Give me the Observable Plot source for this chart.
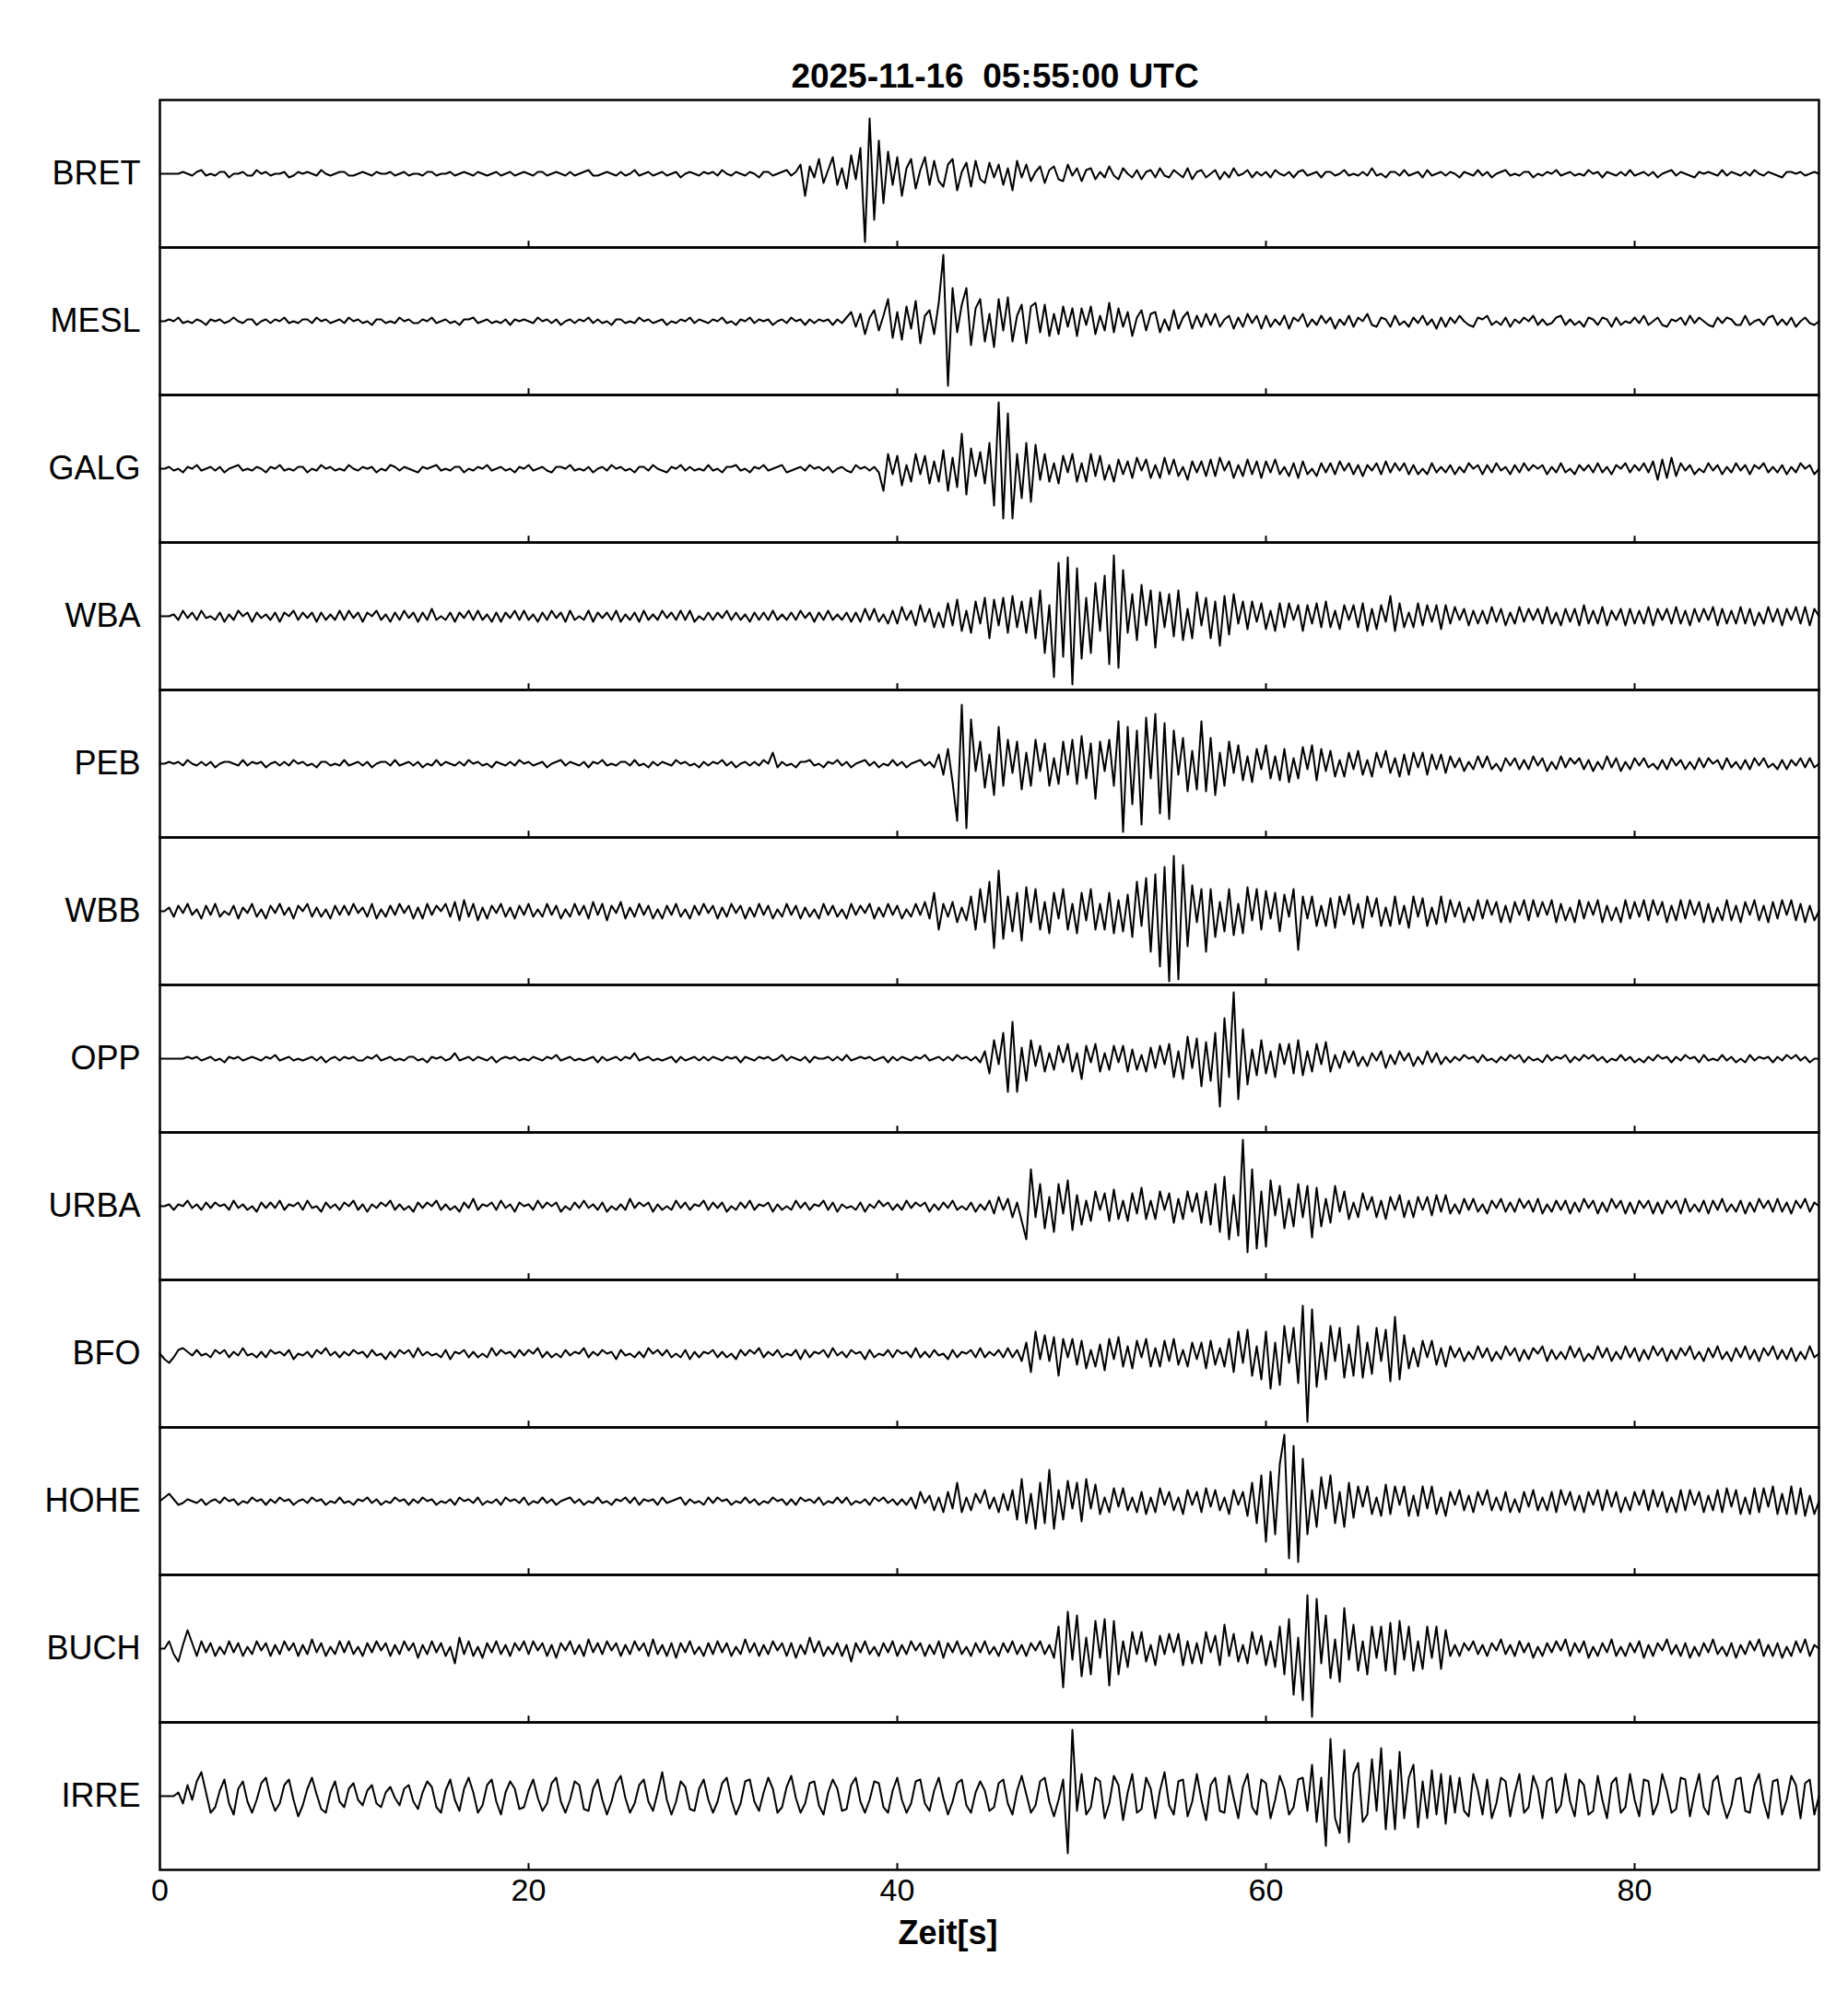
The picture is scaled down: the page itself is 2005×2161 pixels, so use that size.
<!DOCTYPE html>
<html>
<head>
<meta charset="utf-8">
<script src="https://cdn.jsdelivr.net/npm/d3@7"></script>
<script src="https://cdn.jsdelivr.net/npm/@observablehq/plot@0.6"></script>
<style>
  html, body { margin: 0; padding: 0; background: #fff; }
  svg { display: block; }
</style>
</head>
<body>
<script>
// ---- chart values ----
const stations = ["BRET","MESL","GALG","WBA","PEB","WBB","OPP","URBA","BFO","HOHE","BUCH","IRRE"];
const xTicks = [0, 20, 40, 60, 80];
const innerTicks = [20, 40, 60, 80];
const titleText = "2025-11-16\u00a0\u00a005:55:00 UTC";
const xLabel = "Zeit[s]";

// each trace: 9 segments of 10 s, samples every 0.25 s (amplitude units)
const BRET = [
[0,0,0,0, 0,1,0,-1, 1,2,-1,0, -1,1,1,-2, 0,0,1,-1, -1,2,0,1, -1,0,0,1, -2,-1,1,0, 1,0,-1,2, 0,-1,0,1],
[1,-1,-1,0, 1,0,-1,1, 0,0,1,-1, 0,1,-1,0, 0,-1,1,1, -1,0,0,1, -1,0,1,0, -1,1,0,-1, 0,1,-1,0, 1,-1,0,1],
[0,-1,1,1, -1,0,1,0, -1,1,-1,0, 1,2,-1,-1, 0,1,0,-1, 1,-1,0,2, -1,0,1,-1, 0,1,-1,0, 1,-2,0,1, 0,-1,1,0],
[1,-1,2,0, -1,1,0,-1, 1,0,-2,1, 1,-1,0,1, 2,-1,1,5, -12,4,-2,8, -5,2,9,-6, 3,-8,10,-3, 14,-37,30,-25, 18,-16,12,-6],
[9,-12,3,8, -8,2,9,-6, 7,-4,-7,5, 8,-9,1,6, -7,7,-3,-5, 6,-2,5,-6, 3,-9,7,-2, 5,-4,1,4, -5,2,4,-3, -4,5,-1,3],
[-4,2,3,-3, 1,-2,4,-1, -3,3,0,-2, 2,-3,1,2, -2,3,-1,-2, 2,0,-2,3, -3,1,2,-2, 0,2,-3,1, -2,3,-1,0, 2,-2,1,-1],
[1,-2,2,0, -1,1,-2,1, 2,-1,0,1, -2,1,1,-1, 0,2,-1,0, -1,1,-1,3, -1,0,-2,1, 1,-1,2,-1, 0,1,-2,2, -1,0,1,-1],
[1,0,-2,1, 0,-1,2,-1, 1,-2,0,1, 2,-1,0,-1, 1,1,-2,0, -1,1,0,2, -1,0,1,-1, 0,-1,2,0, 1,-2,1,0, -1,1,-1,2],
[-1,0,1,-1, 1,-2,0,1, 2,-1,1,0, -1,-2,1,0, 1,0,-1,2, -1,1,0,-1, 1,-1,2,0, -1,1,0,-1, -2,1,1,0, 1,-1,0,1]
];
const MESL = [
[0,0,1,0, 2,-1,0,-1, 1,0,-2,1, 0,1,-1,0, 2,0,-1,1, 1,-2,0,1, -1,1,0,2, -1,0,-1,1, 1,-1,2,0, 1,-1,0,1],
[-1,2,0,1, -1,0,-2,1, 1,-1,0,-1, 2,0,1,-1, -1,1,0,2, -1,0,1,-1, 0,-2,1,1, 2,-1,0,1, -1,0,-1,1, -2,1,0,1],
[0,-1,2,0, 1,-1,1,-2, 0,1,-1,1, 0,2,-1,1, -1,0,-2,1, 1,-1,0,-1, 2,0,1,-1, 0,1,-2,0, -1,1,0,2, -1,1,0,-1],
[1,0,2,-1, 0,-2,1,0, 2,-1,1,0, 1,-2,0,1, -1,2,0,1, -2,1,-1,1, 0,1,-2,1, -1,2,5,-3, 4,-7,2,6, -5,3,12,-9],
[5,-10,8,-4, 11,-12,3,6, -7,10,36,-35, 18,-6,9,18, -13,7,12,-11, 4,-14,12,-5, 13,-11,3,9, -12,8,10,-6, 9,-8,4,-7, 8,-3,7,-8],
[7,-2,8,-7, 3,-5,10,-6, 7,-3,5,-8, 2,6,-5,4, 5,-6,1,-5, 6,-4,2,5, -4,3,-3,4, -2,4,-3,1, 3,-4,2,-3, 4,-1,3,-4],
[3,-3,1,-2, 3,-4,2,0, 4,-3,1,-2, 3,-1,2,-4, 1,-2,3,-3, 2,0,4,-2, -3,2,1,-3, 3,-2,0,-3, 2,-1,3,-2, 1,-4,2,-3],
[2,-1,3,0, -2,-3,2,1, 3,-2,0,-2, 2,-3,1,-1, 2,0,3,-2, 1,-2,-1,2, 3,-2,1,-2, 0,-3,2,1, -2,2,1,-3, 2,-2,0,-1],
[2,-1,3,-2, 0,2,-2,-3, 1,0,2,-2, 3,-1,2,0, -2,-3,2,-1, 2,1,-2,-2, 3,-2,0,1, -2,2,3,-2, 1,-2,2,-3, 0,2,-1,-2]
];
const GALG = [
[0,0,1,-1, 0,-2,1,0, 2,-1,0,1, -1,1,-2,0, 1,2,-1,0, -1,1,0,-2, 1,0,2,-1, 0,-1,1,1, -2,0,-1,2, 0,1,-1,0],
[-1,2,0,-1, 1,0,1,-2, 0,-1,2,1, -1,1,0,-1, -2,1,0,1, 2,-1,0,-1, 1,1,-2,0, -1,1,0,2, -1,0,1,-1, 0,-2,1,0],
[2,-1,0,1, -1,-2,1,1, 0,2,-1,0, -1,1,-2,0, 1,-1,2,0, 1,-1,0,-2, 1,1,-1,2, 0,-1,-2,1, 0,2,-1,1, -1,0,-1,2],
[-1,0,-2,1, 1,2,-1,0, -2,1,0,2, -1,0,1,2, -2,-1,0,1, -1,2,0,1, -1,1,-2,0, 1,-1,-2,2, 0,1,-1,1, -2,-12,8,-3],
[7,-9,2,-7, 8,-3,7,-8, 4,-7,10,-12, 6,-10,19,-14, 11,-4,9,-8, 14,-20,36,-27, 30,-27,8,-16, 14,-18,13,-6, 8,-7,3,-8, 7,-2,8,-7],
[3,-7,8,-4, 7,-6,2,-7, 5,-3,4,-5, 6,-1,5,-5, 2,-5,6,-3, 5,-4,1,-6, 4,-2,4,-4, 5,-4,6,-1, 4,-5,2,-4, 5,-3,4,-5],
[4,-2,5,-3, 1,-4,3,-5, 4,-3,0,-4, 3,-2,3,-3, 4,-1,3,-3, 2,-4,2,-1, 3,-3,4,-2, 3,-1,3,-3, 2,-3,0,-3, 3,-2,1,-2],
[2,-3,1,-2, 3,0,2,-3, 2,-2,3,-1, 1,-3,2,-2, 3,-1,2,0, 2,-3,1,-2, 3,-2,0,-3, 2,-1,2,-2, 3,-2,1,-3, 2,0,3,-2],
[2,-1,3,-2, 4,-6,5,-5, 6,-4,3,-1, 2,-3,0,-2, 3,-1,2,-3, 1,-2,3,-1, 2,-3,2,0, 3,-2,1,-2, 2,-3,1,-2, 3,0,2,-3]
];
const WBA = [
[0,0,0,1, -2,3,-1,2, -2,3,-1,0, -2,2,-3,1, -2,3,0,2, -3,2,-1,1, -2,2,-3,2, 0,3,-2,2, -1,2,-3,2, -2,1,-2,3],
[-2,3,-1,2, -3,2,0,3, -2,1,-3,2, -2,3,-1,2, -3,2,-2,4, -2,0,-2,2, -3,2,-1,3, -2,3,-2,1, -3,2,-3,2, -1,3,-2,3],
[-2,1,-3,2, -2,3,-1,2, -3,3,-2,0, -2,3,-3,2, -1,2,-2,3, -3,1,-2,2, -3,3,-2,1, -2,3,-1,2, -2,3,-2,3, -3,0,-2,2],
[-2,2,-1,3, -2,2,-2,1, -3,2,-2,2, -2,3,-2,1, -2,2,-2,3, -1,2,-3,2, -2,3,-2,1, -2,2,-3,2, -3,4,-2,4, -3,1,-4,3],
[-4,5,-2,3, -5,6,-3,4, -6,2,-6,7, -5,9,-8,3, -9,8,-4,10, -12,9,-5,10, -9,11,-6,8, -9,10,-12,14, -20,6,-33,29, -22,32,-37,26],
[-23,10,-20,18, -8,22,-26,33, -28,25,-9,12, -13,17,-5,14, -17,13,-6,12, -11,14,-13,4, -12,13,-5,10, -12,8,-16,11, -10,12,-4,8, -7,8,-3,7],
[-7,3,-8,7, -6,7,-2,6, -8,6,-4,7, -6,8,-6,3, -7,6,-2,6, -6,7,-8,4, -7,6,-3,11, -8,7,-6,2, -6,7,-5,6, -3,6,-7,6],
[-4,5,-2,4, -5,3,-4,3, -4,5,-3,4, -5,2,-4,5, -3,4,-2,4, -4,5,-4,2, -5,4,-3,4, -5,6,-4,3, -4,5,-5,3, -2,4,-5,4],
[-4,3,-4,5, -5,4,-2,4, -4,5,-4,3, -5,4,-3,4, -2,5,-5,4, -4,3,-4,5, -4,4,-5,2, -4,5,-3,4, -5,4,-2,5, -4,5,-5,4]
];
const PEB = [
[0,0,1,0, 1,-1,2,0, -1,1,-1,1, -2,0,1,1, 0,-1,2,-1, 1,0,1,-2, 0,1,-1,1, -1,2,0,1, -1,0,-2,1, 1,-1,0,-1],
[2,-1,0,1, -1,1,-2,0, 1,1,-1,2, -1,0,1,-1, 1,-2,0,-1, 2,-1,1,0, -1,1,-1,2, 0,1,-1,0, -2,1,0,-1, 1,-1,2,0],
[1,-1,0,1, -2,0,1,2, -1,1,0,-1, 1,-2,1,0, 2,-1,0,-1, 1,1,-1,2, -1,0,-2,1, -1,1,0,-1, 2,0,1,-1, 0,-2,1,-1],
[1,0,2,-1, 1,-2,0,1, -1,1,-1,2, 0,6,-2,1, -1,0,-2,1, 1,2,-1,0, -2,1,0,2, -1,1,-2,0, 1,2,-1,1, -2,0,-1,2],
[-1,1,-2,0, 1,2,-1,1, -2,5,-6,8, -10,-31,32,-35, 24,-4,12,-13, 5,-17,20,-12, 13,-5,12,-14, 6,-12,13,-4, 11,-12,3,-11, 12,-6,13,-11],
[15,-8,11,-19, 12,-4,13,-12, 23,-37,20,-22, 18,-33,25,-8, 27,-27,22,-30, 18,-6,14,-15, 7,-14,23,-15, 14,-17,6,-12, 12,-5,10,-9, 4,-10,8,-3],
[10,-8,4,-9, 8,-10,3,-8, 9,-3,10,-9, 8,-4,7,-7, 2,-7,6,-3, 7,-6,2,-7, 6,-2,7,-5, 3,-7,5,-6, 6,-2,6,-6, 5,-3,5,-5],
[4,-2,3,-4, 1,-3,4,-2, 4,-3,0,-4, 3,-1,3,-3, 2,-3,4,-1, 3,-4,1,-3, 4,-2,3,0, 3,-3,2,-4, 1,-3,4,-2, 3,-4,1,-3],
[3,-1,3,-2, 0,-3,2,-3, 3,-1,2,-3, 1,-3,3,-2, 3,0,2,-3, 3,-2,1,-3, 2,-3,3,-1, 3,-2,0,-3, 2,-3,2,-1, 3,-2,3,-2]
];
const WBB = [
[0,0,2,-3, 3,-1,4,-2, 1,-4,3,-2, 4,-3,0,-2, 3,-4,2,-1, 4,-3,1,-4, 3,-1,4,-2, 2,-4,3,0, 4,-3,2,-3, 1,-4,3,-2],
[3,-2,4,-1, 2,-3,4,-4, 1,-3,3,-2, 4,-1,3,-4, 2,-4,4,-2, 3,0,4,-3, 5,-5,6,-3, 4,-5,2,-4, 3,-1,4,-3, 2,-4,3,-2],
[4,-3,1,-3, 4,-2,3,-4, 1,-3,4,-2, 3,-4,5,-2, 4,-5,3,-1, 5,-4,2,-3, 4,-2,3,-4, 1,-4,3,-2, 4,-3,1,-4, 3,-2,4,-1],
[3,-4,2,-3, 4,-1,3,-4, 2,-3,4,-2, 3,-4,1,-3, 4,-2,3,-4, 2,-3,1,-4, 4,-2,3,-3, 1,-4,4,-2, 3,-1,4,-4, 2,-3,4,-2],
[3,-4,1,-3, 4,-2,5,-4, 10,-10,4,-3, 5,-6,2,-5, 8,-10,12,-6, 16,-20,22,-15, 8,-11,10,-16, 13,-6,12,-10, 5,-12,10,-4, 12,-10,4,-12],
[10,-5,12,-10, 4,-10,10,-12, 6,-11,9,-14, 16,-8,18,-22, 20,-30,24,-38, 30,-37,25,-19, 14,-6,12,-22, 12,-14,5,-11, 12,-13,4,-12, 13,-5,12,-10],
[11,-4,10,-11, 9,-3,12,-21, 8,-4,8,-8, 3,-8,7,-9, 8,-2,9,-7, 4,-9,8,-3, 7,-8,2,-8, 8,-7,3,-9, 8,-3,7,-8, 2,-7,8,-6],
[6,-3,5,-6, 2,-5,6,-4, 6,-2,5,-6, 3,-6,5,-2, 6,-5,6,-3, 5,-2,6,-6, 4,-5,2,-6, 6,-4,5,-2, 6,-6,3,-5, 2,-6,6,-4],
[5,-3,6,-5, 6,-2,5,-6, 3,-5,6,-4, 6,-2,5,-6, 4,-6,2,-5, 6,-5,3,-6, 5,-2,6,-5, 3,-6,5,-4, 6,-2,6,-5, 4,-6,3,-5]
];
const OPP = [
[0,0,0,0, 0,0,1,0, 1,-1,0,1, -1,0,-2,1, 0,1,-1,0, 1,0,-1,1, 0,2,-1,0, 1,-1,0,-1, 0,1,-1,1, -2,0,1,-1],
[1,0,1,-1, -1,1,0,2, -1,0,1,-1, 0,-1,1,1, -1,0,-2,1, 0,1,-1,0, 3,-1,0,1, -1,1,0,-1, 1,-2,0,1, 0,1,-1,0],
[-1,1,0,-1, 1,0,2,-1, 0,1,-1,0, -1,0,1,-2, 1,-1,0,1, -1,1,0,3, -1,0,1,-1, 0,-1,0,1, -2,1,-1,0, 1,-1,1,-1],
[1,0,-1,1, 0,1,-2,1, 0,-1,1,0, 1,-1,0,2, -1,1,0,-1, 1,-2,1,0, 0,1,-1,1, -1,2,-1,0, 1,0,1,-1, 0,1,-2,1],
[-1,1,0,-1, 1,0,2,-1, 0,1,-1,1, -1,2,0,1, -1,1,-2,4, -8,10,-3,14, -18,20,-18,6, -12,10,-4,7, -7,3,-6,7, -2,8,-7,3],
[-11,7,-2,8, -7,3,-6,7, -2,7,-7,5, -6,2,-7,6, -5,7,-3,8, -10,4,-11,12, -5,11,-15,9, -12,14,-26,22, -10,36,-22,16, -14,5,-9,10],
[-8,4,-10,8, -3,8,-8,10, -9,4,-7,8, -3,9,-7,2, -5,4,-2,4, -4,1,-4,3, -1,4,-5,2, -3,4,-1,3, -4,1,-3,4, -2,3,-3,1],
[-2,1,-1,2, 0,1,-2,2, -1,0,-2,1, -1,2,0,2, -2,1,-1,0, -2,2,-1,1, 0,2,-2,1, -1,2,0,2, -1,1,-2,0, -1,2,-1,1],
[-2,0,-2,1, -1,2,0,1, -2,1,-1,2, 0,1,-2,2, -1,0,-1,2, -1,1,-2,0, -2,2,-1,1, 0,1,-2,1, -1,2,0,2, -1,1,-2,0]
];
const URBA = [
[0,0,1,-2, 1,0,3,-1, 1,-2,2,-1, 2,0,1,-2, 3,-1,1,-2, 0,-3,2,-1, 2,-1,3,-2, 1,0,2,-2, 3,-1,0,-3, 2,-1,1,-2],
[2,0,3,-2, 1,-3,1,-1, 2,0,3,-2, 1,-2,0,-3, 2,-1,2,0, 3,-2,1,-2, 0,-3,2,-1, 4,-2,1,0, 2,-2,3,-1, 1,-3,2,0],
[1,-2,3,-1, 2,0,2,-3, 0,-2,2,-1, 3,-1,1,-2, 2,-3,0,-2, 1,-2,4,-1, 2,0,2,-3, 1,-2,0,-2, 3,-1,2,-2, 1,0,3,-2],
[2,-1,2,-3, 0,-2,2,-1, 3,-2,1,0, 2,-3,1,-2, 0,-2,3,-1, 2,-2,1,0, 3,-2,2,-3, 1,-1,0,-2, 2,-3,1,-1, 3,0,2,-2],
[1,-2,3,-1, 2,0,2,-3, 1,-2,2,-1, 3,-2,0,-2, 2,-3,1,-2, 3,-4,5,-2, 4,-6,2,-8, -18,20,-6,12, -12,5,-14,12, -4,14,-13,6],
[-10,3,-8,8, -2,7,-8,9, -7,3,-8,7, -4,10,-7,3, -7,8,-2,7, -9,4,-7,8, -3,7,-9,8, -10,12,-14,16, -18,6,-16,36, -25,20,-23,8],
[-22,14,-5,11, -12,4,-11,12, -6,11,-17,10, -11,4,-9,11, -3,8,-7,2, -6,7,-2,5, -6,3,-7,5, -2,6,-6,3, -6,5,-2,5, -5,6,-3,6],
[-4,1,-4,4, -2,4,-3,1, -4,3,-1,4, -3,2,-3,4, -1,3,-3,4, -4,1,-3,3, -2,3,-4,2, -3,4,-1,3, -4,2,-3,4, -1,3,-4,2],
[-4,3,-1,3, -4,2,-4,3, -1,3,-4,4, -3,1,-3,3, -4,3,-2,4, -3,1,-3,3, -4,2,-3,4, -1,3,-3,4, -3,2,-4,3, -1,4,-3,2]
];
const BFO = [
[0,-3,-5,-2, 2,3,1,-1, 2,-1,0,-2, 2,0,2,-2, 1,-1,3,-1, 0,-2,1,-2, 2,0,1,-1, 2,-3,0,-1, 1,-2,2,0, 3,-1,1,-2],
[1,-1,2,0, 1,-2,2,-1, 0,-3,1,-2, 2,0,2,-2, 3,-1,1,-1, 0,-2,2,-3, 1,0,2,-2, 1,-2,0,-2, 3,-1,2,0, 1,-2,2,-1],
[2,0,3,-2, 1,-2,0,-2, 2,-1,1,0, 3,-2,1,-1, 2,0,1,-3, 2,-1,0,-2, 1,-2,3,0, 2,-1,2,-2, 0,-2,2,-3, 1,-2,1,0],
[2,-2,1,-2, 0,-3,2,-1, 2,0,3,-2, 1,-1,2,-2, 0,-1,2,-3, 2,-2,1,0, 2,-2,3,-1, 1,-2,2,0, 1,-3,2,-2, 0,-1,2,-2],
[2,0,1,-2, 3,-2,1,-2, 2,-1,0,-3, 2,-2,1,0, 2,-2,3,-2, 1,-1,2,-2, 3,-2,2,-4, 6,-10,12,-3, 10,-4,9,-12, 8,-2,8,-6],
[7,-8,2,-7, 5,-9,8,-3, 9,-7,4,-8, 7,-2,8,-7, 3,-7,7,-4, 8,-6,2,-7, 6,-3,6,-8, 7,-6,3,-7, 8,-10,12,-5, 13,-12,4,-14],
[12,-19,6,-17, 15,-5,14,-16, 26,-37,24,-18, 6,-14,15,-4, 14,-13,5,-12, 15,-13,6,-11, 14,-4,13,-15, 20,-14,10,-8, 3,-7,7,-2, 7,-6,3,-7],
[4,-2,3,-4, 1,-3,4,-2, 3,-4,1,-3, 4,-1,3,-4, 2,-3,3,0, 4,-4,2,-3, 1,-3,4,-2, 3,-4,0,-3, 4,-2,3,-4, 1,-3,4,-2],
[3,-4,2,-3, 4,-1,3,-4, 2,-3,3,-1, 4,-3,1,-4, 3,-2,4,-3, 1,-4,3,-2, 4,-3,2,-4, 3,-1,4,-3, 2,-3,3,-4, 1,-3,4,-2]
];
const HOHE = [
[0,2,4,1, -2,-1,1,0, -1,1,-2,0, 1,-1,2,0, 1,-2,0,-1, 2,0,1,-2, 1,-1,2,0, 1,-2,0,1, -1,2,0,1, -2,0,-1,2],
[-1,0,-2,1, 0,2,-1,1, -2,0,-1,2, 0,1,-2,1, -1,2,0,1, -2,0,-1,1, -2,2,0,1, -1,2,-2,0, -1,1,-2,2, 0,1,-1,2],
[-2,0,-1,2, -1,1,-2,0, 1,2,-1,1, -2,0,-1,2, -1,0,-2,1, 0,2,-1,2, -2,1,0,1, -2,2,-1,0, 1,2,-2,1, -1,0,-2,2],
[-1,2,0,1, -2,0,-1,2, -1,1,-2,0, -1,2,0,1, -2,1,-2,2, 0,1,-1,2, -2,0,-1,2, -1,2,-2,0, -1,1,-2,2, 0,2,-1,1],
[-2,1,-2,2, -4,5,-1,3, -5,2,-6,5, -4,10,-6,2, -5,4,-1,6, -4,2,-6,4, -5,6,-10,12, -12,4,-15,10, -12,17,-15,6, -10,11,-4,10],
[-11,12,-4,9, -7,2,-6,7, -3,7,-5,2, -6,5,-7,2, -6,7,-2,5, -5,2,-7,6, -2,5,-6,7, -3,6,-5,2, -7,6,-2,5, -8,10,-12,14],
[-22,16,-18,20, 36,-31,30,-33, 23,-18,6,-14, 13,-4,14,-12, 5,-14,10,-9, 8,-3,8,-7, 2,-8,9,-7, 8,-2,8,-8, 3,-8,8,-4, 8,-7,2,-8],
[5,-2,6,-5, 3,-6,5,-2, 6,-5,2,-5, 5,-6,1,-6, 5,-3,6,-5, 2,-5,5,-6, 6,-2,5,-5, 3,-6,5,-2, 6,-5,6,-3, 5,-6,2,-5],
[5,-2,6,-5, 6,-3,5,-6, 2,-6,6,-5, 6,-2,5,-6, 3,-5,6,-6, 7,-3,6,-7, 2,-7,7,-6, 7,-3,8,-7, 4,-7,8,-7, 7,-8,3,-7]
];
const BUCH = [
[0,0,4,-3, -7,2,10,3, -4,4,-2,3, -4,1,-3,4, -2,3,-4,1, -3,4,-1,3, -4,2,-3,4, -1,3,-4,2, -3,5,-2,3, -4,1,-3,4],
[-2,4,-3,1, -4,3,-2,4, -1,3,-4,2, -3,4,-1,3, -5,2,-3,4, -2,3,-4,1, -8,6,-3,4, -4,1,-5,3, -2,4,-3,2, -4,3,-1,4],
[-3,4,-1,3, -4,2,-5,3, -1,4,-3,2, -4,5,-2,3, -3,4,-1,3, -4,2,-3,4, -1,3,-4,5, -3,2,-4,3, -5,3,-2,4, -3,1,-4,3],
[-3,4,-2,3, -4,1,-3,5, -2,3,-4,2, -3,4,-1,3, -4,3,-5,2, -3,6,-2,4, -4,1,-3,3, -4,2,-7,3, -2,4,-3,1, -4,3,-2,4],
[-4,2,-3,4, -1,3,-4,2, -3,4,-5,3, -2,4,-3,1, -4,3,-2,4, -3,1,-4,3, -2,4,-3,2, -4,3,-1,4, -3,2,-5,12, -21,20,-6,18],
[-15,6,-14,15, -5,16,-20,15, -14,4,-10,9, -3,9,-7,2, -9,7,-3,8, -2,8,-9,4, -8,3,-8,9, -2,7,-9,13, -4,8,-7,2, -8,9,-3,7],
[-9,4,-10,12, -14,16,-25,6, -28,29,-37,27, -8,18,-16,5, -18,22,-6,13, -12,4,-14,12, -5,12,-12,14, -14,15,-6,12, -12,4,-11,12, -5,12,-11,10],
[-4,2,-4,3, -1,4,-3,2, -4,3,-1,5, -3,2,-4,4, -2,3,-5,1, -4,3,-2,4, -1,5,-4,3, -2,4,-5,1, -4,3,-2,5, -4,1,-4,3],
[-2,4,-5,2, -4,3,-1,5, -3,2,-4,3, -5,1,-4,3, -2,5,-3,1, -4,3,-5,2, -3,4,-1,5, -4,2,-4,3, -5,1,-4,4, -2,5,-4,2]
];
const IRRE = [
[0,0,0,0, 2,-4,6,-2, 8,13,2,-9, -6,3,9,-4, -10,4,8,-3, -9,-2,7,10, -1,-8,-4,6, 9,-2,-11,-5, 4,10,1,-7, -9,2,8,-3],
[-6,4,7,-2, -5,3,6,-4, -6,2,5,-1, -5,4,6,-3, -7,2,8,5, -6,-9,3,9, -2,-8,4,10, 2,-9,-5,6, 9,-3,-10,2, 8,4,-7,-6],
[3,9,-1,-8, -4,7,10,-3, -9,-2,8,6, -7,-8,4,9, -2,-10,-3,7, 11,-1,-9,-4, 6,9,-3,-8, 2,13,-2,-10, -3,8,5,-7, -8,4,9,-2],
[-9,-3,7,10, -2,-10,-4,8, 9,-3,-8,2, 10,4,-9,-6, 5,11,-1,-9, -4,7,8,-5, -10,2,9,4, -8,-7,6,10, -3,-9,-2,8, 7,-6,-9,3],
[10,-2,-9,-4, 8,9,-4,-8, 3,10,-1,-10, -3,7,9,-5, -9,2,8,3, -8,-6,7,9, -4,-10,3,11, 1,-9,-5,8, 10,-3,-11,-2, 9,-31,36,-8],
[12,-10,-6,10, 8,-12,-4,11, 6,-13,2,12, -9,-7,10,4, -12,3,13,-5, -10,8,9,-11, -3,12,-2,-13, 6,10,-8,-9, 11,-1,-12,5, 12,-6,-10,9],
[7,-12,-2,11, 4,-10,-6,9, 10,-8,17,-14, 10,-27,31,-12, -20,25,-25,12, 18,-14,-10,20, -8,26,-18,14, -18,24,-12,10, 17,-17,8,-12, 14,-10,12,-15],
[11,-9,10,-8, -11,12,3,-10, 9,-12,-4,10, 8,-11,2,12, -9,-6,11,4, -12,8,10,-9, -5,12,-3,-11, 9,6,-10,-8, 11,-2,-12,7, 10,-9,-6,12],
[-2,-11,9,8, -10,-4,12,3, -9,-7,10,9, -11,2,12,-6, -10,8,11,-3, -12,-5,9,10, -8,-9,6,12, -3,-12,8,9, -10,-2,11,6, -12,7,9,-10]
];

const traces = {BRET, MESL, GALG, WBA, PEB, WBB, OPP, URBA, BFO, HOHE, BUCH, IRRE};

// long-form table for Plot
const rows = [];
for (const s of stations) {
  traces[s].forEach((seg, k) => {
    seg.forEach((v, j) => rows.push({station: s, t: k * 10 + j * 10 / seg.length, v}));
  });
  rows.push({station: s, t: 90, v: 0});
}

const chart = Plot.plot({
  width: 2005,
  height: 2161,
  marginLeft: 173,
  marginRight: 32,
  marginTop: 108,
  marginBottom: 133,
  x: {domain: [0, 90], axis: null},
  y: {domain: [-40, 40], axis: null},
  fy: {domain: stations, padding: 0, axis: null},
  style: {
    fontFamily: "'Liberation Sans', Arial, Helvetica, sans-serif",
    color: "black",
    background: "white"
  },
  marks: [
    Plot.line(rows, {x: "t", y: "v", fy: "station", stroke: "black", strokeWidth: 2}),
    Plot.ruleX(innerTicks, {x: d => d, y1: () => -40, y2: () => -36.6, stroke: "black", strokeWidth: 2}),
    Plot.frame({stroke: "black", strokeWidth: 2.5}),
    Plot.text(stations, {fy: d => d, text: d => d, frameAnchor: "left", dx: -21, textAnchor: "end", fontSize: 36, fill: "black"}),
    Plot.axisX({ticks: xTicks, tickSize: 0, tickPadding: 9, fontSize: 34, label: null, tickFormat: d => String(d)}),
    Plot.text([titleText], {fy: () => stations[0], text: d => d, frameAnchor: "top", lineAnchor: "bottom", dy: -14, dx: 6, fontSize: 37, fontWeight: "bold", fill: "black"}),
    Plot.text([xLabel], {fy: () => stations[stations.length - 1], text: d => d, frameAnchor: "bottom", lineAnchor: "bottom", dy: 80, dx: -45, fontSize: 36, fontWeight: "bold", fill: "black"})
  ]
});
document.body.appendChild(chart);
</script>
</body>
</html>
